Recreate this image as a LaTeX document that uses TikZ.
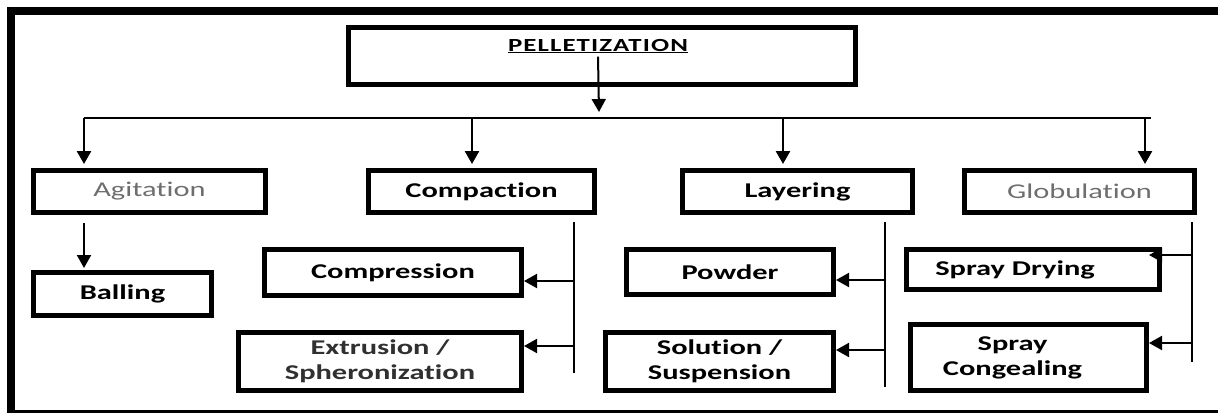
\documentclass[tikz,border=0pt]{standalone}
\usepackage{fontspec}
\setmainfont{Carlito}[FakeStretch=1.45,Ligatures=NoCommon]
\newfontfamily\titlefont{Carlito}[FakeStretch=1.45,LetterSpace=6,Ligatures=NoCommon]
\usetikzlibrary{arrows.meta}
\definecolor{grayword}{HTML}{6E6E6E}
\definecolor{darkword}{HTML}{303030}

\begin{document}
\begin{tikzpicture}[x=1pt,y=-1pt,
    box/.style={draw,line width=5pt,inner sep=0pt,align=center,
      font=\fontsize{21}{25}\selectfont\bfseries},
    plain/.style={font=\fontsize{21}{25}\selectfont,text=grayword},
    link/.style={line width=2pt},
    drop/.style={line width=2.6pt},
    >={Triangle[length=13pt,width=14pt]}]
    \useasboundingbox (0,0) rectangle (1218,413);

    % frame
    \fill (7,7) rectangle (1218,15);
    \fill (7,7) rectangle (15,413);
    \fill (7,410) rectangle (1218,413);

    \node[box,minimum width=507,minimum height=57] (pellbox) at (602,56) {};
    \node[font=\titlefont\bfseries\fontsize{18.5}{21}\selectfont] (pell) at (598,46) {\underline{PELLETIZATION}};

    \node[box,plain,minimum width=232,minimum height=42] (agit) at (149.5,191.5) {Agitation};
    \node[box,minimum width=226,minimum height=42] (compa) at (481.5,191.5) {Compaction};
    \node[box,minimum width=230,minimum height=42] (layer) at (797.5,191.5) {Layering};
    \node[box,plain,minimum width=230,minimum height=42] (glob) at (1079.5,191.5) {Globulation};

    \node[box,minimum width=178,minimum height=43] (ball) at (122.5,294) {Balling};
    \node[box,minimum width=257,minimum height=46] (comp) at (393,272.5) {Compression};
    \node[box,minimum width=283,minimum height=58,text=darkword] (extr) at (380,361.5) {Extrusion /\\Spheronization};
    \node[box,minimum width=207,minimum height=45] (powd) at (730,272) {Powder};
    \node[box,minimum width=228,minimum height=58] (solu) at (719.5,361.5) {Solution /\\Suspension};
    \node[box,minimum width=253,minimum height=40] (sdry) at (1033,269.5) {Spray Drying\hspace*{36pt}};
    \node[box,minimum width=236,minimum height=66] (scong) at (1028.5,357.5) {Spray\hspace*{32pt}\\Congealing\hspace*{32pt}};

    % main split
    \coordinate (hmid) at (599,112);
    \coordinate (hl) at (84,118);
    \coordinate (hr) at (1151,118);
    \draw[link,arrows={->}] (pell.south) -- (hmid);
    \draw[link] (hl) -- (hr);
    \foreach \n/\x in {agit/84,compa/472,layer/783,glob/1145}{
      \coordinate (d\n) at (\x,118);
      \draw[drop,arrows={->},shorten >=4pt] (d\n) -- (d\n |- \n.north);
    }
    \draw[link,arrows={->},shorten <=8pt,shorten >=2pt] (dagit |- agit.south) -- (dagit |- ball.north);

    % side branches
    \coordinate (vc1) at (574,222);
    \coordinate (vc2) at (574,373);
    \coordinate (vl1) at (885,222);
    \coordinate (vl2) at (885,387);
    \coordinate (vg1) at (1192,222);
    \coordinate (vg2) at (1192,362);
    \draw[link] (vc1) -- (vc2);
    \draw[link] (vl1) -- (vl2);
    \draw[link] (vg1) -- (vg2);

    \coordinate (bc1) at (574,281);
    \coordinate (bc2) at (574,346);
    \coordinate (bl1) at (885,280);
    \coordinate (bl2) at (885,350);
    \coordinate (bg1) at (1192,255);
    \coordinate (bg2) at (1192,343);
    \draw[link,arrows={->}] (bc1) -- (comp.east |- bc1);
    \draw[link,arrows={->}] (bc2) -- (extr.east |- bc2);
    \draw[link,arrows={->}] (bl1) -- (powd.east |- bl1);
    \draw[link,arrows={->}] (bl2) -- (solu.east |- bl2);
    \draw[link,arrows={->}] (bg1) -- ([xshift=-13pt]sdry.east |- bg1);
    \draw[link,arrows={->}] (bg2) -- (scong.east |- bg2);
\end{tikzpicture}
\end{document}
